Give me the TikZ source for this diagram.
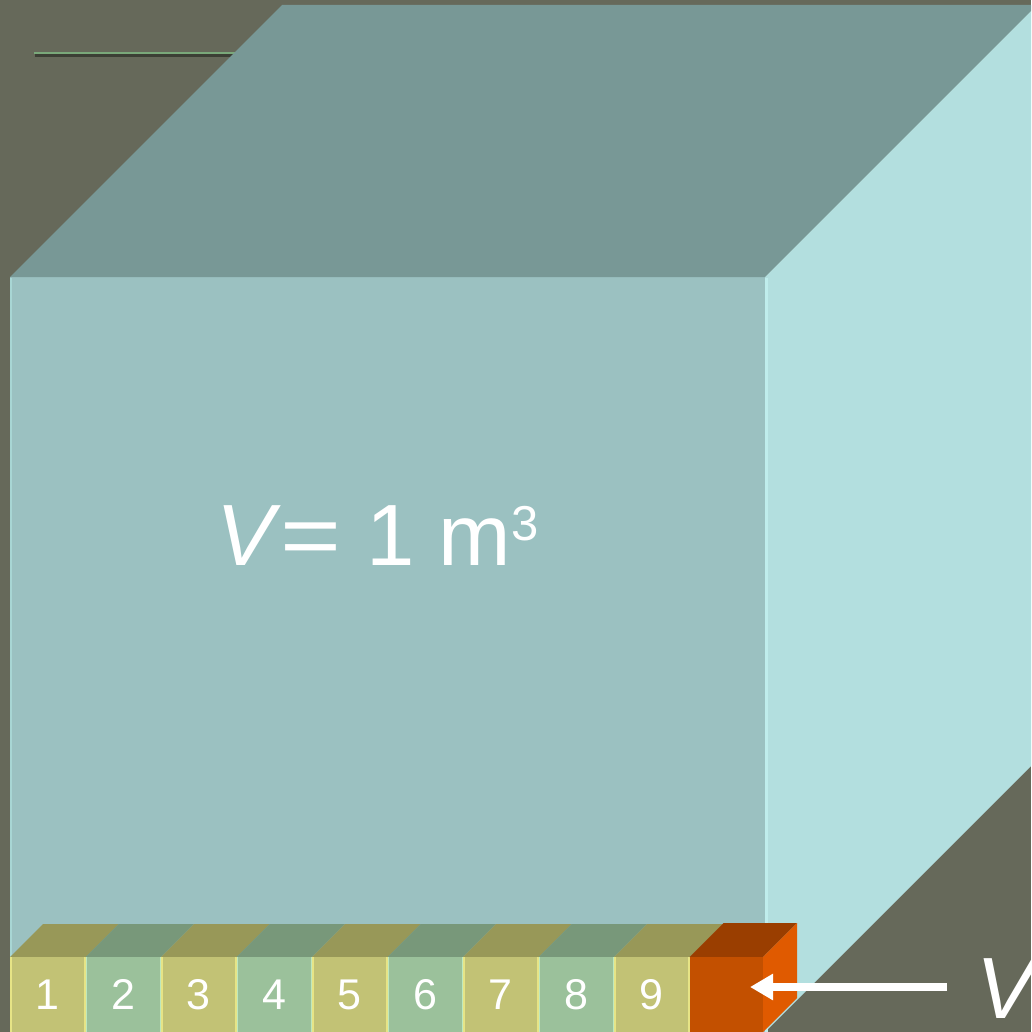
\documentclass[tikz,border=0pt]{standalone}
\usepackage{fontspec}
\setmainfont{Liberation Sans}
\usetikzlibrary{arrows.meta,positioning}
\usepackage{xcolor}
\definecolor{slate}{HTML}{66695A}
\definecolor{cubetop}{HTML}{789896}
\definecolor{cubefront}{HTML}{9BC1C1}
\definecolor{cubeside}{HTML}{B3DFDF}
\definecolor{cubeedge}{HTML}{A8D6D4}
\definecolor{sideedge}{HTML}{BFEDEC}
\definecolor{oddfront}{HTML}{C2C275}
\definecolor{oddtop}{HTML}{989858}
\definecolor{oddedge}{HTML}{E6E486}
\definecolor{evenfront}{HTML}{9BC19B}
\definecolor{eventop}{HTML}{78987A}
\definecolor{evenedge}{HTML}{BEE8BE}
\definecolor{rust}{HTML}{C35000}
\definecolor{rusttop}{HTML}{9A3E00}
\definecolor{rustside}{HTML}{E05A00}
\definecolor{rulegreen}{HTML}{7AA87A}
\definecolor{ruleshade}{HTML}{3C3F35}

\begin{document}
\begin{tikzpicture}[x=1pt, y=-1pt,
    face/.style={inner sep=0pt, outer sep=0pt, minimum height=75pt, anchor=north west, text=white, font=\fontsize{43}{43}\selectfont},
    label/.style={inner sep=0pt, text=white, font=\fontsize{87}{87}\selectfont},
    arrow/.style={-{Triangle[length=23pt, width=25pt]}, line width=8pt, white},
]

\useasboundingbox (0,0) rectangle (1031,1032);
\clip (0,0) rectangle (1031,1032);
\fill[slate] (0,0) rectangle (1031,1032);

% rule behind the cube
\draw[ruleshade, line width=2.5pt] (35,55.5) -- (240,55.5);
\draw[rulegreen, line width=2pt] (34,53) -- (240,53);

% the big cube
\fill[cubefront] (10,277) rectangle (765,1032);
\fill[cubetop] (10,277) -- (765,277) -- (1037,5) -- (282,5) -- cycle;
\fill[cubeside] (765,277) -- (1037,5) -- (1037,760) -- (765,1032) -- cycle;
\draw[cubeedge, line width=2pt] (11,278) -- (11,1032);
\draw[sideedge, line width=3pt] (766.5,278) -- (766.5,1032);

\node[label, anchor=base west] (vbig) at (216,565) {\textit{V}\scalebox{1.2}[1]{=} 1 m\raisebox{25pt}{\fontsize{49}{49}\selectfont 3}};

% row of small cubes
\foreach \i in {1,...,9} {
    \ifodd\i \def\tone{odd}\else\def\tone{even}\fi
    \pgfmathsetmacro\xa{10+(\i-1)*75.5}
    \fill[\tone top] (\xa,957) -- ++(75.5,0) -- ++(33,-33) -- ++(-75.5,0) -- cycle;
    \node[face, fill=\tone front, minimum width=75.5pt] (c\i) at (\xa,957) {\i};
    \draw[\tone edge, line width=1.5pt] ([xshift=0.75pt]c\i.north west) -- ([xshift=0.75pt]c\i.south west);
    \draw[\tone edge, line width=1.5pt] ([xshift=-0.75pt]c\i.north east) -- ([xshift=-0.75pt]c\i.south east);
}

\fill[rusttop] (689.5,957) -- (763,957) -- (797,923) -- (723.5,923) -- cycle;
\fill[rustside] (763,957) -- (797,923) -- (797,998) -- (763,1032) -- cycle;
\node[face, fill=rust, minimum width=73.5pt] (c10) at (689.5,957) {};

\node[label, anchor=base west, font=\fontsize{87}{87}\selectfont\itshape] (vsmall) at (976,1018) {V};

\coordinate (tail) at (947,987);
\coordinate (tip) at (750,987);
\draw[arrow] (tail) -- (tip);

\end{tikzpicture}
\end{document}
